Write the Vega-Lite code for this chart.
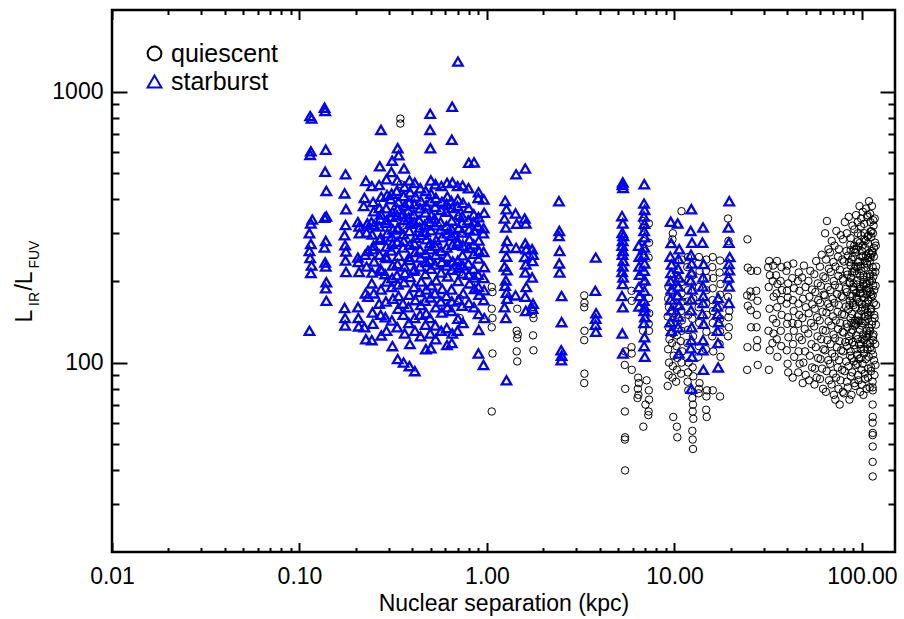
{
"$schema": "https://vega.github.io/schema/vega-lite/v6.json",
"width": 783, "height": 542,
"autosize": "none",
"padding": {"left": 112, "top": 10, "right": 9, "bottom": 67},
"background": "white",
"title": {"text": "\u200bL\u00a0\u00a0\u00a0/L\u00a0\u00a0\u00a0\u00a0\u00a0\u200b", "subtitle": "\u200b\u00a0\u00a0\u00a0\u00a0IR\u00a0\u00a0\u00a0\u00a0\u00a0\u00a0FUV\u200b", "orient": "left", "anchor": "middle", "fontSize": 23, "subtitleFontSize": 14, "font": "Liberation Sans", "subtitleFont": "Liberation Sans", "fontWeight": "normal", "color": "#000000", "subtitleColor": "#000000", "subtitlePadding": -9, "offset": 10},
"config": {
  "font": "Liberation Sans",
  "view": {"stroke": "#000000", "strokeWidth": 2.5},
  "axis": {"domain": false, "grid": false, "tickColor": "#000000", "tickWidth": 2, "labelColor": "#000000", "labelFont": "Liberation Sans", "labelFontSize": 23, "titleFont": "Liberation Sans", "titleFontSize": 23, "titleFontWeight": "normal", "titleColor": "#000000", "labelFlush": false, "labelOverlap": false}
},
"datasets": {
  "ax": [{"x": 1, "y": 100}],
  "pts": [
{"x":0.345,"y":795,"t":"q"},{"x":0.345,"y":762,"t":"q"},{"x":0.347,"y":455,"t":"q"},{"x":0.346,"y":325,"t":"q"},
{"x":0.715,"y":340,"t":"q"},{"x":0.713,"y":288,"t":"q"},{"x":0.716,"y":228,"t":"q"},{"x":0.714,"y":215,"t":"q"},{"x":0.715,"y":172,"t":"q"},{"x":0.716,"y":146,"t":"q"},
{"x":1.06,"y":190,"t":"q"},{"x":1.07,"y":182,"t":"q"},{"x":1.06,"y":158,"t":"q"},{"x":1.07,"y":146,"t":"q"},{"x":1.06,"y":135,"t":"q"},{"x":1.07,"y":108,"t":"q"},{"x":1.06,"y":66,"t":"q"},
{"x":1.45,"y":158,"t":"q"},{"x":1.44,"y":131,"t":"q"},{"x":1.46,"y":127,"t":"q"},{"x":1.45,"y":123,"t":"q"},{"x":1.44,"y":110,"t":"q"},{"x":1.45,"y":101,"t":"q"},
{"x":1.77,"y":160,"t":"q"},{"x":1.76,"y":151,"t":"q"},{"x":1.77,"y":146,"t":"q"},{"x":1.76,"y":126,"t":"q"},{"x":1.77,"y":111,"t":"q"},
{"x":3.3,"y":177,"t":"q"},{"x":3.31,"y":166,"t":"q"},{"x":3.3,"y":160,"t":"q"},{"x":3.31,"y":131,"t":"q"},{"x":3.3,"y":121,"t":"q"},{"x":3.31,"y":91,"t":"q"},{"x":3.3,"y":84,"t":"q"},
{"x":5.45,"y":110,"t":"q"},{"x":5.43,"y":98,"t":"q"},{"x":5.46,"y":80,"t":"q"},{"x":5.44,"y":66,"t":"q"},{"x":5.45,"y":53,"t":"q"},{"x":5.44,"y":52,"t":"q"},{"x":5.45,"y":40,"t":"q"},
{"x":5.9,"y":184,"t":"q"},{"x":5.92,"y":169,"t":"q"},{"x":5.9,"y":114,"t":"q"},{"x":5.91,"y":108,"t":"q"},{"x":5.92,"y":94,"t":"q"},
{"x":6.4,"y":88,"t":"q"},{"x":6.45,"y":84,"t":"q"},{"x":6.38,"y":80,"t":"q"},{"x":6.42,"y":76,"t":"q"},{"x":6.35,"y":74,"t":"q"},
{"x":6.8,"y":333,"t":"q"},{"x":6.82,"y":315,"t":"q"},{"x":6.8,"y":281,"t":"q"},{"x":6.83,"y":258,"t":"q"},{"x":6.81,"y":195,"t":"q"},{"x":6.8,"y":131,"t":"q"},{"x":6.82,"y":58,"t":"q"},
{"x":7.3,"y":326,"t":"q"},{"x":7.32,"y":277,"t":"q"},{"x":7.28,"y":244,"t":"q"},{"x":7.3,"y":173,"t":"q"},{"x":7.33,"y":152,"t":"q"},{"x":7.29,"y":139,"t":"q"},{"x":7.31,"y":131,"t":"q"},{"x":7.3,"y":79,"t":"q"},{"x":7.32,"y":73,"t":"q"},{"x":7.28,"y":66,"t":"q"},{"x":7.25,"y":64,"t":"q"},{"x":7.1,"y":86,"t":"q"},{"x":7.0,"y":70,"t":"q"},
{"x":9.3,"y":190,"t":"q"},{"x":9.25,"y":172,"t":"q"},{"x":9.35,"y":160,"t":"q"},{"x":9.2,"y":148,"t":"q"},{"x":9.3,"y":135,"t":"q"},{"x":9.4,"y":122,"t":"q"},{"x":9.25,"y":112,"t":"q"},{"x":9.35,"y":100,"t":"q"},{"x":9.3,"y":90,"t":"q"},{"x":9.2,"y":82,"t":"q"},
{"x":9.8,"y":300,"t":"q"},{"x":9.75,"y":285,"t":"q"},{"x":9.85,"y":200,"t":"q"},{"x":9.8,"y":182,"t":"q"},{"x":9.9,"y":165,"t":"q"},{"x":9.75,"y":152,"t":"q"},{"x":9.85,"y":140,"t":"q"},{"x":9.8,"y":128,"t":"q"},{"x":9.7,"y":118,"t":"q"},{"x":9.9,"y":106,"t":"q"},{"x":9.8,"y":97,"t":"q"},{"x":9.75,"y":88,"t":"q"},{"x":9.85,"y":63,"t":"q"},
{"x":10.3,"y":210,"t":"q"},{"x":10.25,"y":188,"t":"q"},{"x":10.35,"y":176,"t":"q"},{"x":10.3,"y":160,"t":"q"},{"x":10.2,"y":150,"t":"q"},{"x":10.4,"y":138,"t":"q"},{"x":10.3,"y":126,"t":"q"},{"x":10.25,"y":115,"t":"q"},{"x":10.35,"y":104,"t":"q"},{"x":10.3,"y":94,"t":"q"},{"x":10.2,"y":85,"t":"q"},{"x":10.3,"y":58,"t":"q"},{"x":10.35,"y":53,"t":"q"},
{"x":10.9,"y":362,"t":"q"},{"x":10.95,"y":240,"t":"q"},{"x":10.85,"y":198,"t":"q"},{"x":10.9,"y":180,"t":"q"},{"x":11.0,"y":168,"t":"q"},{"x":10.85,"y":155,"t":"q"},{"x":10.95,"y":143,"t":"q"},{"x":10.9,"y":131,"t":"q"},{"x":10.8,"y":120,"t":"q"},{"x":11.0,"y":110,"t":"q"},{"x":10.9,"y":100,"t":"q"},{"x":10.85,"y":91,"t":"q"},
{"x":11.8,"y":245,"t":"q"},{"x":11.7,"y":225,"t":"q"},{"x":11.9,"y":200,"t":"q"},{"x":11.8,"y":185,"t":"q"},{"x":11.75,"y":168,"t":"q"},{"x":11.85,"y":150,"t":"q"},{"x":11.8,"y":132,"t":"q"},{"x":11.7,"y":118,"t":"q"},{"x":11.9,"y":100,"t":"q"},{"x":11.8,"y":92,"t":"q"},{"x":11.75,"y":85,"t":"q"},{"x":11.85,"y":79,"t":"q"},
{"x":12.5,"y":210,"t":"q"},{"x":12.6,"y":172,"t":"q"},{"x":12.45,"y":145,"t":"q"},{"x":12.55,"y":125,"t":"q"},{"x":12.5,"y":96,"t":"q"},{"x":12.6,"y":89,"t":"q"},{"x":12.45,"y":74,"t":"q"},{"x":12.55,"y":70,"t":"q"},{"x":12.5,"y":66,"t":"q"},{"x":12.6,"y":62,"t":"q"},{"x":12.45,"y":56,"t":"q"},{"x":12.5,"y":52,"t":"q"},{"x":12.55,"y":48,"t":"q"},
{"x":13.5,"y":245,"t":"q"},{"x":13.4,"y":232,"t":"q"},{"x":13.6,"y":218,"t":"q"},{"x":13.5,"y":190,"t":"q"},{"x":13.45,"y":160,"t":"q"},{"x":13.55,"y":140,"t":"q"},{"x":13.5,"y":115,"t":"q"},{"x":13.4,"y":105,"t":"q"},{"x":13.6,"y":84,"t":"q"},{"x":13.5,"y":80,"t":"q"},{"x":13.45,"y":77,"t":"q"},
{"x":14.8,"y":240,"t":"q"},{"x":14.7,"y":218,"t":"q"},{"x":14.9,"y":205,"t":"q"},{"x":14.8,"y":185,"t":"q"},{"x":14.75,"y":165,"t":"q"},{"x":14.85,"y":150,"t":"q"},{"x":14.8,"y":130,"t":"q"},{"x":14.7,"y":112,"t":"q"},{"x":14.9,"y":79,"t":"q"},{"x":14.8,"y":75,"t":"q"},{"x":14.75,"y":67,"t":"q"},{"x":14.85,"y":63,"t":"q"},
{"x":16,"y":245,"t":"q"},{"x":15.9,"y":225,"t":"q"},{"x":16.1,"y":205,"t":"q"},{"x":16,"y":188,"t":"q"},{"x":15.95,"y":170,"t":"q"},{"x":16.05,"y":155,"t":"q"},{"x":16,"y":140,"t":"q"},{"x":15.9,"y":125,"t":"q"},{"x":16.1,"y":110,"t":"q"},{"x":16,"y":79,"t":"q"},
{"x":17.5,"y":238,"t":"q"},{"x":17.4,"y":215,"t":"q"},{"x":17.6,"y":195,"t":"q"},{"x":17.5,"y":178,"t":"q"},{"x":17.45,"y":160,"t":"q"},{"x":17.55,"y":145,"t":"q"},{"x":17.5,"y":130,"t":"q"},{"x":17.4,"y":117,"t":"q"},{"x":17.6,"y":105,"t":"q"},{"x":17.5,"y":75,"t":"q"},
{"x":19.3,"y":340,"t":"q"},{"x":19.4,"y":281,"t":"q"},{"x":19.5,"y":200,"t":"q"},{"x":19.3,"y":175,"t":"q"},{"x":19.6,"y":155,"t":"q"},{"x":19.4,"y":147,"t":"q"},{"x":19.5,"y":135,"t":"q"},{"x":19.3,"y":125,"t":"q"},
{"x":24.5,"y":285,"t":"q"},{"x":24.6,"y":224,"t":"q"},{"x":24.4,"y":177,"t":"q"},{"x":24.6,"y":162,"t":"q"},{"x":24.5,"y":114,"t":"q"},{"x":24.4,"y":94,"t":"q"},
{"x":25.6,"y":218,"t":"q"},{"x":25.4,"y":183,"t":"q"},{"x":25.7,"y":175,"t":"q"},{"x":25.5,"y":156,"t":"q"},{"x":25.6,"y":135,"t":"q"},
{"x":27.6,"y":218,"t":"q"},{"x":27.3,"y":184,"t":"q"},{"x":27.7,"y":169,"t":"q"},{"x":27.5,"y":150,"t":"q"},{"x":27.4,"y":135,"t":"q"},{"x":27.6,"y":121,"t":"q"},{"x":27.5,"y":114,"t":"q"},{"x":27.8,"y":98,"t":"q"},
{"x":32,"y":237,"t":"q"},{"x":31.6,"y":225,"t":"q"},{"x":32.3,"y":210,"t":"q"},{"x":31.8,"y":190,"t":"q"},{"x":32.1,"y":158,"t":"q"},{"x":31.7,"y":131,"t":"q"},{"x":32.2,"y":111,"t":"q"},{"x":31.9,"y":94,"t":"q"},
{"x":33.6,"y":228,"t":"q"},{"x":33.4,"y":200,"t":"q"},{"x":33.8,"y":175,"t":"q"},{"x":33.5,"y":145,"t":"q"},{"x":33.7,"y":128,"t":"q"},{"x":33.3,"y":118,"t":"q"},
{"x":35.2,"y":237,"t":"q"},{"x":34.8,"y":210,"t":"q"},{"x":35.4,"y":195,"t":"q"},{"x":35,"y":180,"t":"q"},{"x":35.3,"y":160,"t":"q"},{"x":34.9,"y":140,"t":"q"},{"x":35.1,"y":122,"t":"q"},{"x":35.4,"y":105,"t":"q"},
{"x":37.2,"y":225,"t":"q"},{"x":36.8,"y":200,"t":"q"},{"x":37.4,"y":185,"t":"q"},{"x":37,"y":170,"t":"q"},{"x":37.3,"y":150,"t":"q"},{"x":36.9,"y":131,"t":"q"},{"x":37.1,"y":115,"t":"q"},
{"x":40,"y":228,"t":"q"},{"x":39.5,"y":218,"t":"q"},{"x":40.4,"y":196,"t":"q"},{"x":39.8,"y":184,"t":"q"},{"x":40.2,"y":174,"t":"q"},{"x":39.6,"y":165,"t":"q"},{"x":40.3,"y":147,"t":"q"},{"x":39.9,"y":139,"t":"q"},{"x":40.5,"y":124,"t":"q"},{"x":39.7,"y":111,"t":"q"},{"x":40.1,"y":99,"t":"q"},{"x":40.4,"y":92,"t":"q"},
{"x":43,"y":232,"t":"q"},{"x":42.5,"y":205,"t":"q"},{"x":43.4,"y":188,"t":"q"},{"x":42.8,"y":170,"t":"q"},{"x":43.2,"y":155,"t":"q"},{"x":42.6,"y":140,"t":"q"},{"x":43.3,"y":131,"t":"q"},{"x":42.9,"y":117,"t":"q"},{"x":43.5,"y":105,"t":"q"},{"x":42.7,"y":88,"t":"q"},
{"x":46,"y":215,"t":"q"},{"x":45.5,"y":200,"t":"q"},{"x":46.4,"y":184,"t":"q"},{"x":45.8,"y":165,"t":"q"},{"x":46.2,"y":150,"t":"q"},{"x":45.6,"y":139,"t":"q"},{"x":46.3,"y":124,"t":"q"},{"x":45.9,"y":110,"t":"q"},{"x":46.5,"y":99,"t":"q"},{"x":45.7,"y":92,"t":"q"},
{"x":49,"y":228,"t":"q"},{"x":47.9,"y":206,"t":"q"},{"x":50,"y":190,"t":"q"},{"x":48.5,"y":172,"t":"q"},{"x":50.2,"y":160,"t":"q"},{"x":48.1,"y":146,"t":"q"},{"x":49.5,"y":133,"t":"q"},{"x":47.8,"y":121,"t":"q"},{"x":49.7,"y":110,"t":"q"},{"x":48.7,"y":100,"t":"q"},{"x":50.1,"y":90,"t":"q"},{"x":48.3,"y":84,"t":"q"},
{"x":53,"y":218,"t":"q"},{"x":51.8,"y":200,"t":"q"},{"x":54.1,"y":186,"t":"q"},{"x":52.4,"y":175,"t":"q"},{"x":54.3,"y":164,"t":"q"},{"x":52,"y":152,"t":"q"},{"x":53.5,"y":140,"t":"q"},{"x":51.7,"y":128,"t":"q"},{"x":53.8,"y":117,"t":"q"},{"x":52.7,"y":106,"t":"q"},{"x":54.2,"y":96,"t":"q"},{"x":52.2,"y":86,"t":"q"},
{"x":57,"y":237,"t":"q"},{"x":55.7,"y":212,"t":"q"},{"x":58.1,"y":196,"t":"q"},{"x":56.4,"y":182,"t":"q"},{"x":58.4,"y":170,"t":"q"},{"x":56,"y":158,"t":"q"},{"x":57.6,"y":147,"t":"q"},{"x":55.6,"y":136,"t":"q"},{"x":57.9,"y":125,"t":"q"},{"x":56.7,"y":114,"t":"q"},{"x":58.3,"y":104,"t":"q"},{"x":56.1,"y":95,"t":"q"},{"x":57.3,"y":88,"t":"q"},{"x":55.8,"y":83,"t":"q"},
{"x":61,"y":250,"t":"q"},{"x":59.7,"y":226,"t":"q"},{"x":62.2,"y":208,"t":"q"},{"x":60.3,"y":192,"t":"q"},{"x":62.5,"y":178,"t":"q"},{"x":59.9,"y":166,"t":"q"},{"x":61.6,"y":154,"t":"q"},{"x":59.5,"y":143,"t":"q"},{"x":61.9,"y":132,"t":"q"},{"x":60.6,"y":122,"t":"q"},{"x":62.3,"y":112,"t":"q"},{"x":60.1,"y":103,"t":"q"},{"x":61.3,"y":95,"t":"q"},{"x":59.7,"y":87,"t":"q"},{"x":62,"y":80,"t":"q"},
{"x":65,"y":333,"t":"q"},{"x":63.6,"y":300,"t":"q"},{"x":66.3,"y":262,"t":"q"},{"x":64.3,"y":240,"t":"q"},{"x":66.6,"y":222,"t":"q"},{"x":63.8,"y":205,"t":"q"},{"x":65.7,"y":190,"t":"q"},{"x":63.4,"y":177,"t":"q"},{"x":66,"y":165,"t":"q"},{"x":64.6,"y":153,"t":"q"},{"x":66.4,"y":142,"t":"q"},{"x":64,"y":131,"t":"q"},{"x":65.3,"y":121,"t":"q"},{"x":63.6,"y":111,"t":"q"},{"x":66.1,"y":102,"t":"q"},{"x":64.8,"y":93,"t":"q"},{"x":66.7,"y":86,"t":"q"},{"x":64.2,"y":78,"t":"q"},
{"x":69,"y":281,"t":"q"},{"x":67.5,"y":255,"t":"q"},{"x":70.4,"y":235,"t":"q"},{"x":68.2,"y":216,"t":"q"},{"x":70.7,"y":200,"t":"q"},{"x":67.8,"y":185,"t":"q"},{"x":69.7,"y":172,"t":"q"},{"x":67.3,"y":160,"t":"q"},{"x":70,"y":148,"t":"q"},{"x":68.6,"y":137,"t":"q"},{"x":70.5,"y":127,"t":"q"},{"x":68,"y":117,"t":"q"},{"x":69.3,"y":108,"t":"q"},{"x":67.6,"y":99,"t":"q"},{"x":70.2,"y":91,"t":"q"},{"x":68.8,"y":83,"t":"q"},{"x":70.8,"y":76,"t":"q"},
{"x":73,"y":306,"t":"q"},{"x":71.4,"y":270,"t":"q"},{"x":74.5,"y":246,"t":"q"},{"x":72.2,"y":226,"t":"q"},{"x":74.8,"y":209,"t":"q"},{"x":71.7,"y":193,"t":"q"},{"x":73.7,"y":179,"t":"q"},{"x":71.2,"y":166,"t":"q"},{"x":74.1,"y":154,"t":"q"},{"x":72.6,"y":143,"t":"q"},{"x":74.6,"y":133,"t":"q"},{"x":71.9,"y":123,"t":"q"},{"x":73.4,"y":114,"t":"q"},{"x":71.5,"y":105,"t":"q"},{"x":74.2,"y":96,"t":"q"},{"x":72.8,"y":88,"t":"q"},{"x":74.9,"y":80,"t":"q"},{"x":72.1,"y":73,"t":"q"},
{"x":77,"y":295,"t":"q"},{"x":75.3,"y":262,"t":"q"},{"x":78.5,"y":240,"t":"q"},{"x":76.2,"y":220,"t":"q"},{"x":78.9,"y":204,"t":"q"},{"x":75.6,"y":189,"t":"q"},{"x":77.8,"y":176,"t":"q"},{"x":75.1,"y":163,"t":"q"},{"x":78.2,"y":151,"t":"q"},{"x":76.5,"y":140,"t":"q"},{"x":78.7,"y":130,"t":"q"},{"x":75.8,"y":120,"t":"q"},{"x":77.4,"y":111,"t":"q"},{"x":75.4,"y":102,"t":"q"},{"x":78.3,"y":94,"t":"q"},{"x":76.8,"y":86,"t":"q"},{"x":79,"y":78,"t":"q"},{"x":76.1,"y":70,"t":"q"},
{"x":81,"y":330,"t":"q"},{"x":79.2,"y":285,"t":"q"},{"x":82.6,"y":258,"t":"q"},{"x":80.1,"y":236,"t":"q"},{"x":83,"y":217,"t":"q"},{"x":79.5,"y":201,"t":"q"},{"x":81.8,"y":187,"t":"q"},{"x":79,"y":174,"t":"q"},{"x":82.2,"y":161,"t":"q"},{"x":80.5,"y":150,"t":"q"},{"x":82.8,"y":139,"t":"q"},{"x":79.8,"y":129,"t":"q"},{"x":81.4,"y":119,"t":"q"},{"x":79.3,"y":110,"t":"q"},{"x":82.4,"y":101,"t":"q"},{"x":80.8,"y":93,"t":"q"},{"x":83.1,"y":85,"t":"q"},{"x":80,"y":77,"t":"q"},
{"x":85,"y":345,"t":"q"},{"x":83.1,"y":300,"t":"q"},{"x":86.7,"y":272,"t":"q"},{"x":84.1,"y":248,"t":"q"},{"x":87.1,"y":228,"t":"q"},{"x":83.5,"y":211,"t":"q"},{"x":85.9,"y":196,"t":"q"},{"x":82.9,"y":182,"t":"q"},{"x":86.3,"y":169,"t":"q"},{"x":84.5,"y":157,"t":"q"},{"x":86.9,"y":146,"t":"q"},{"x":83.7,"y":135,"t":"q"},{"x":85.4,"y":125,"t":"q"},{"x":83.2,"y":115,"t":"q"},{"x":86.4,"y":106,"t":"q"},{"x":84.7,"y":97,"t":"q"},{"x":87.2,"y":89,"t":"q"},{"x":84,"y":81,"t":"q"},{"x":85.7,"y":73,"t":"q"},
{"x":89,"y":320,"t":"q"},{"x":87,"y":288,"t":"q"},{"x":90.8,"y":262,"t":"q"},{"x":88,"y":240,"t":"q"},{"x":91.2,"y":222,"t":"q"},{"x":87.4,"y":205,"t":"q"},{"x":89.9,"y":190,"t":"q"},{"x":86.8,"y":176,"t":"q"},{"x":90.3,"y":163,"t":"q"},{"x":88.5,"y":151,"t":"q"},{"x":91,"y":140,"t":"q"},{"x":87.7,"y":129,"t":"q"},{"x":89.4,"y":119,"t":"q"},{"x":87.1,"y":110,"t":"q"},{"x":90.5,"y":101,"t":"q"},{"x":88.7,"y":92,"t":"q"},{"x":91.3,"y":84,"t":"q"},{"x":87.9,"y":76,"t":"q"},
{"x":93,"y":350,"t":"q"},{"x":91,"y":310,"t":"q"},{"x":94.9,"y":280,"t":"q"},{"x":92,"y":255,"t":"q"},{"x":95.3,"y":235,"t":"q"},{"x":91.3,"y":217,"t":"q"},{"x":93.9,"y":201,"t":"q"},{"x":90.7,"y":186,"t":"q"},{"x":94.4,"y":172,"t":"q"},{"x":92.4,"y":160,"t":"q"},{"x":95,"y":148,"t":"q"},{"x":91.6,"y":137,"t":"q"},{"x":93.5,"y":126,"t":"q"},{"x":91,"y":116,"t":"q"},{"x":94.6,"y":107,"t":"q"},{"x":92.7,"y":98,"t":"q"},{"x":95.4,"y":90,"t":"q"},{"x":91.9,"y":82,"t":"q"},
{"x":97,"y":378,"t":"q"},{"x":94.9,"y":330,"t":"q"},{"x":98.9,"y":295,"t":"q"},{"x":95.9,"y":268,"t":"q"},{"x":99.4,"y":246,"t":"q"},{"x":95.3,"y":226,"t":"q"},{"x":98,"y":209,"t":"q"},{"x":94.6,"y":194,"t":"q"},{"x":98.5,"y":180,"t":"q"},{"x":96.4,"y":167,"t":"q"},{"x":99.1,"y":155,"t":"q"},{"x":95.5,"y":143,"t":"q"},{"x":97.5,"y":132,"t":"q"},{"x":95,"y":122,"t":"q"},{"x":98.6,"y":112,"t":"q"},{"x":96.7,"y":103,"t":"q"},{"x":99.5,"y":94,"t":"q"},{"x":95.8,"y":86,"t":"q"},{"x":97.8,"y":78,"t":"q"},
{"x":101,"y":360,"t":"q"},{"x":98.8,"y":318,"t":"q"},{"x":103,"y":285,"t":"q"},{"x":99.9,"y":258,"t":"q"},{"x":103.5,"y":237,"t":"q"},{"x":99.2,"y":218,"t":"q"},{"x":102,"y":202,"t":"q"},{"x":98.5,"y":187,"t":"q"},{"x":102.5,"y":173,"t":"q"},{"x":100.4,"y":160,"t":"q"},{"x":103.2,"y":148,"t":"q"},{"x":99.5,"y":137,"t":"q"},{"x":101.5,"y":127,"t":"q"},{"x":98.9,"y":117,"t":"q"},{"x":102.7,"y":108,"t":"q"},{"x":100.7,"y":99,"t":"q"},{"x":103.6,"y":91,"t":"q"},{"x":99.8,"y":83,"t":"q"},{"x":101.8,"y":76,"t":"q"},
{"x":105,"y":370,"t":"q"},{"x":102.7,"y":325,"t":"q"},{"x":107.1,"y":292,"t":"q"},{"x":103.8,"y":265,"t":"q"},{"x":107.6,"y":243,"t":"q"},{"x":103.1,"y":224,"t":"q"},{"x":106.1,"y":207,"t":"q"},{"x":102.4,"y":192,"t":"q"},{"x":106.6,"y":178,"t":"q"},{"x":104.4,"y":165,"t":"q"},{"x":107.3,"y":153,"t":"q"},{"x":103.4,"y":142,"t":"q"},{"x":105.5,"y":131,"t":"q"},{"x":102.8,"y":121,"t":"q"},{"x":106.8,"y":112,"t":"q"},{"x":104.7,"y":103,"t":"q"},{"x":107.7,"y":95,"t":"q"},{"x":103.7,"y":87,"t":"q"},{"x":105.8,"y":80,"t":"q"},
{"x":109,"y":394,"t":"q"},{"x":106.6,"y":345,"t":"q"},{"x":111.2,"y":305,"t":"q"},{"x":107.8,"y":275,"t":"q"},{"x":111.7,"y":250,"t":"q"},{"x":107,"y":230,"t":"q"},{"x":110.1,"y":212,"t":"q"},{"x":106.3,"y":196,"t":"q"},{"x":110.6,"y":182,"t":"q"},{"x":108.3,"y":169,"t":"q"},{"x":111.4,"y":157,"t":"q"},{"x":107.4,"y":145,"t":"q"},{"x":109.5,"y":134,"t":"q"},{"x":106.7,"y":124,"t":"q"},{"x":110.9,"y":114,"t":"q"},{"x":108.7,"y":105,"t":"q"},{"x":111.8,"y":96,"t":"q"},{"x":107.7,"y":88,"t":"q"},{"x":109.9,"y":81,"t":"q"},
{"x":113,"y":378,"t":"q"},{"x":110.5,"y":354,"t":"q"},{"x":115.3,"y":320,"t":"q"},{"x":111.8,"y":290,"t":"q"},{"x":115.8,"y":265,"t":"q"},{"x":111,"y":244,"t":"q"},{"x":114.1,"y":225,"t":"q"},{"x":110.2,"y":208,"t":"q"},{"x":114.7,"y":193,"t":"q"},{"x":112.3,"y":179,"t":"q"},{"x":115.5,"y":166,"t":"q"},{"x":111.3,"y":154,"t":"q"},{"x":113.6,"y":142,"t":"q"},{"x":110.6,"y":131,"t":"q"},{"x":114.9,"y":121,"t":"q"},{"x":112.7,"y":111,"t":"q"},{"x":115.9,"y":102,"t":"q"},{"x":111.6,"y":93,"t":"q"},{"x":113.9,"y":85,"t":"q"},
{"x":114,"y":81,"t":"q"},{"x":114.2,"y":79,"t":"q"},{"x":114,"y":70,"t":"q"},{"x":114.1,"y":63,"t":"q"},{"x":114,"y":60,"t":"q"},{"x":114.2,"y":55,"t":"q"},{"x":114,"y":54,"t":"q"},{"x":114.1,"y":49,"t":"q"},{"x":114,"y":43,"t":"q"},{"x":114.1,"y":38,"t":"q"},
{"x":117,"y":340,"t":"q"},{"x":114.4,"y":300,"t":"q"},{"x":118.5,"y":270,"t":"q"},{"x":115.7,"y":246,"t":"q"},{"x":118.8,"y":226,"t":"q"},{"x":114.9,"y":208,"t":"q"},{"x":118.2,"y":192,"t":"q"},{"x":114.1,"y":177,"t":"q"},{"x":118.8,"y":163,"t":"q"},{"x":116.3,"y":150,"t":"q"},{"x":118.6,"y":138,"t":"q"},{"x":115.2,"y":127,"t":"q"},{"x":117.6,"y":117,"t":"q"},{"x":114.5,"y":107,"t":"q"},{"x":118,"y":98,"t":"q"},{"x":116.6,"y":90,"t":"q"},
{"x":87,"y":260,"t":"q"},{"x":85.5,"y":235,"t":"q"},{"x":88.6,"y":215,"t":"q"},{"x":86.2,"y":198,"t":"q"},{"x":88.9,"y":176,"t":"q"},{"x":85.8,"y":163,"t":"q"},{"x":87.7,"y":140,"t":"q"},{"x":85.2,"y":120,"t":"q"},{"x":88.2,"y":104,"t":"q"},
{"x":91,"y":270,"t":"q"},{"x":89.3,"y":245,"t":"q"},{"x":92.8,"y":226,"t":"q"},{"x":90.1,"y":196,"t":"q"},{"x":93.1,"y":181,"t":"q"},{"x":89.6,"y":166,"t":"q"},{"x":91.9,"y":143,"t":"q"},{"x":89,"y":132,"t":"q"},{"x":92.3,"y":112,"t":"q"},
{"x":95,"y":300,"t":"q"},{"x":93.2,"y":261,"t":"q"},{"x":96.9,"y":236,"t":"q"},{"x":94.1,"y":213,"t":"q"},{"x":97.3,"y":187,"t":"q"},{"x":93.5,"y":174,"t":"q"},{"x":96,"y":150,"t":"q"},{"x":92.9,"y":138,"t":"q"},{"x":96.4,"y":117,"t":"q"},{"x":94.5,"y":99,"t":"q"},
{"x":99,"y":340,"t":"q"},{"x":97,"y":276,"t":"q"},{"x":101,"y":247,"t":"q"},{"x":98,"y":227,"t":"q"},{"x":101.4,"y":195,"t":"q"},{"x":97.4,"y":180,"t":"q"},{"x":100,"y":164,"t":"q"},{"x":96.8,"y":142,"t":"q"},{"x":100.5,"y":122,"t":"q"},{"x":98.4,"y":104,"t":"q"},
{"x":103,"y":300,"t":"q"},{"x":101,"y":271,"t":"q"},{"x":105.1,"y":248,"t":"q"},{"x":102,"y":210,"t":"q"},{"x":105.5,"y":195,"t":"q"},{"x":101.3,"y":180,"t":"q"},{"x":104.1,"y":158,"t":"q"},{"x":100.7,"y":140,"t":"q"},{"x":104.6,"y":125,"t":"q"},{"x":102.3,"y":112,"t":"q"},
{"x":107,"y":350,"t":"q"},{"x":104.8,"y":282,"t":"q"},{"x":109.2,"y":254,"t":"q"},{"x":105.9,"y":233,"t":"q"},{"x":109.6,"y":200,"t":"q"},{"x":105.1,"y":186,"t":"q"},{"x":108.1,"y":170,"t":"q"},{"x":104.5,"y":148,"t":"q"},{"x":108.6,"y":128,"t":"q"},{"x":106.4,"y":117,"t":"q"},
{"x":111,"y":330,"t":"q"},{"x":108.6,"y":295,"t":"q"},{"x":113.3,"y":258,"t":"q"},{"x":109.9,"y":236,"t":"q"},{"x":113.7,"y":216,"t":"q"},{"x":109.1,"y":188,"t":"q"},{"x":112.2,"y":174,"t":"q"},{"x":108.3,"y":150,"t":"q"},{"x":112.7,"y":138,"t":"q"},{"x":110.4,"y":118,"t":"q"},
{"x":115,"y":335,"t":"q"},{"x":112.5,"y":305,"t":"q"},{"x":117.4,"y":277,"t":"q"},{"x":113.9,"y":254,"t":"q"},{"x":117.8,"y":216,"t":"q"},{"x":113,"y":200,"t":"q"},{"x":116.2,"y":185,"t":"q"},{"x":112.2,"y":158,"t":"q"},{"x":116.8,"y":146,"t":"q"},{"x":114.3,"y":125,"t":"q"},
{"x":0.114,"y":812,"t":"s"},{"x":0.116,"y":795,"t":"s"},{"x":0.115,"y":602,"t":"s"},{"x":0.114,"y":584,"t":"s"},{"x":0.117,"y":337,"t":"s"},{"x":0.115,"y":326,"t":"s"},{"x":0.113,"y":300,"t":"s"},{"x":0.115,"y":274,"t":"s"},{"x":0.113,"y":258,"t":"s"},{"x":0.114,"y":243,"t":"s"},{"x":0.116,"y":228,"t":"s"},{"x":0.115,"y":214,"t":"s"},{"x":0.113,"y":131,"t":"s"},
{"x":0.136,"y":872,"t":"s"},{"x":0.137,"y":848,"t":"s"},{"x":0.138,"y":610,"t":"s"},{"x":0.137,"y":506,"t":"s"},{"x":0.139,"y":430,"t":"s"},{"x":0.136,"y":342,"t":"s"},{"x":0.139,"y":346,"t":"s"},{"x":0.138,"y":281,"t":"s"},{"x":0.136,"y":266,"t":"s"},{"x":0.137,"y":234,"t":"s"},{"x":0.138,"y":226,"t":"s"},{"x":0.139,"y":198,"t":"s"},{"x":0.138,"y":188,"t":"s"},{"x":0.139,"y":169,"t":"s"},
{"x":0.176,"y":495,"t":"s"},{"x":0.174,"y":421,"t":"s"},{"x":0.177,"y":368,"t":"s"},{"x":0.176,"y":322,"t":"s"},{"x":0.174,"y":295,"t":"s"},{"x":0.175,"y":271,"t":"s"},{"x":0.177,"y":257,"t":"s"},{"x":0.176,"y":238,"t":"s"},{"x":0.177,"y":216,"t":"s"},{"x":0.174,"y":159,"t":"s"},{"x":0.175,"y":146,"t":"s"},{"x":0.175,"y":137,"t":"s"},
{"x":0.205,"y":330,"t":"s"},{"x":0.208,"y":318,"t":"s"},{"x":0.209,"y":300,"t":"s"},{"x":0.205,"y":244,"t":"s"},{"x":0.206,"y":235,"t":"s"},{"x":0.208,"y":216,"t":"s"},{"x":0.205,"y":160,"t":"s"},{"x":0.206,"y":146,"t":"s"},{"x":0.207,"y":136,"t":"s"},
{"x":0.226,"y":468,"t":"s"},{"x":0.222,"y":405,"t":"s"},{"x":0.22,"y":378,"t":"s"},{"x":0.23,"y":326,"t":"s"},{"x":0.228,"y":302,"t":"s"},{"x":0.232,"y":258,"t":"s"},{"x":0.224,"y":250,"t":"s"},{"x":0.228,"y":226,"t":"s"},{"x":0.225,"y":180,"t":"s"},{"x":0.232,"y":175,"t":"s"},{"x":0.222,"y":135,"t":"s"},{"x":0.226,"y":122,"t":"s"},
{"x":0.243,"y":448,"t":"s"},{"x":0.247,"y":391,"t":"s"},{"x":0.249,"y":362,"t":"s"},{"x":0.242,"y":330,"t":"s"},{"x":0.25,"y":322,"t":"s"},{"x":0.244,"y":297,"t":"s"},{"x":0.248,"y":270,"t":"s"},{"x":0.246,"y":262,"t":"s"},{"x":0.25,"y":236,"t":"s"},{"x":0.244,"y":215,"t":"s"},{"x":0.243,"y":196,"t":"s"},{"x":0.249,"y":180,"t":"s"},{"x":0.245,"y":153,"t":"s"},{"x":0.246,"y":139,"t":"s"},{"x":0.243,"y":121,"t":"s"},
{"x":0.272,"y":722,"t":"s"},{"x":0.268,"y":530,"t":"s"},{"x":0.266,"y":452,"t":"s"},{"x":0.273,"y":409,"t":"s"},{"x":0.267,"y":372,"t":"s"},{"x":0.272,"y":352,"t":"s"},{"x":0.27,"y":339,"t":"s"},{"x":0.266,"y":318,"t":"s"},{"x":0.271,"y":289,"t":"s"},{"x":0.268,"y":284,"t":"s"},{"x":0.267,"y":250,"t":"s"},{"x":0.27,"y":222,"t":"s"},{"x":0.274,"y":218,"t":"s"},{"x":0.272,"y":186,"t":"s"},{"x":0.266,"y":165,"t":"s"},{"x":0.271,"y":150,"t":"s"},{"x":0.273,"y":126,"t":"s"},
{"x":0.291,"y":475,"t":"s"},{"x":0.293,"y":415,"t":"s"},{"x":0.29,"y":371,"t":"s"},{"x":0.292,"y":335,"t":"s"},{"x":0.289,"y":328,"t":"s"},{"x":0.294,"y":300,"t":"s"},{"x":0.291,"y":268,"t":"s"},{"x":0.288,"y":246,"t":"s"},{"x":0.293,"y":243,"t":"s"},{"x":0.286,"y":212,"t":"s"},{"x":0.292,"y":199,"t":"s"},{"x":0.289,"y":168,"t":"s"},{"x":0.287,"y":147,"t":"s"},{"x":0.291,"y":131,"t":"s"},
{"x":0.312,"y":556,"t":"s"},{"x":0.309,"y":505,"t":"s"},{"x":0.31,"y":420,"t":"s"},{"x":0.307,"y":401,"t":"s"},{"x":0.313,"y":359,"t":"s"},{"x":0.308,"y":345,"t":"s"},{"x":0.315,"y":310,"t":"s"},{"x":0.31,"y":292,"t":"s"},{"x":0.313,"y":274,"t":"s"},{"x":0.309,"y":259,"t":"s"},{"x":0.314,"y":228,"t":"s"},{"x":0.312,"y":205,"t":"s"},{"x":0.31,"y":190,"t":"s"},{"x":0.315,"y":172,"t":"s"},{"x":0.311,"y":143,"t":"s"},{"x":0.313,"y":115,"t":"s"},
{"x":0.334,"y":618,"t":"s"},{"x":0.338,"y":582,"t":"s"},{"x":0.332,"y":470,"t":"s"},{"x":0.33,"y":430,"t":"s"},{"x":0.337,"y":392,"t":"s"},{"x":0.333,"y":368,"t":"s"},{"x":0.331,"y":350,"t":"s"},{"x":0.336,"y":315,"t":"s"},{"x":0.334,"y":311,"t":"s"},{"x":0.332,"y":279,"t":"s"},{"x":0.337,"y":248,"t":"s"},{"x":0.333,"y":231,"t":"s"},{"x":0.331,"y":210,"t":"s"},{"x":0.335,"y":194,"t":"s"},{"x":0.338,"y":176,"t":"s"},{"x":0.336,"y":158,"t":"s"},{"x":0.332,"y":135,"t":"s"},{"x":0.334,"y":103,"t":"s"},
{"x":0.361,"y":520,"t":"s"},{"x":0.363,"y":445,"t":"s"},{"x":0.359,"y":412,"t":"s"},{"x":0.365,"y":380,"t":"s"},{"x":0.356,"y":354,"t":"s"},{"x":0.362,"y":336,"t":"s"},{"x":0.358,"y":298,"t":"s"},{"x":0.36,"y":281,"t":"s"},{"x":0.357,"y":266,"t":"s"},{"x":0.363,"y":226,"t":"s"},{"x":0.365,"y":214,"t":"s"},{"x":0.361,"y":198,"t":"s"},{"x":0.356,"y":165,"t":"s"},{"x":0.358,"y":150,"t":"s"},{"x":0.364,"y":128,"t":"s"},{"x":0.359,"y":100,"t":"s"},
{"x":0.386,"y":470,"t":"s"},{"x":0.389,"y":425,"t":"s"},{"x":0.384,"y":389,"t":"s"},{"x":0.38,"y":364,"t":"s"},{"x":0.383,"y":343,"t":"s"},{"x":0.39,"y":325,"t":"s"},{"x":0.385,"y":306,"t":"s"},{"x":0.388,"y":272,"t":"s"},{"x":0.384,"y":245,"t":"s"},{"x":0.386,"y":239,"t":"s"},{"x":0.389,"y":207,"t":"s"},{"x":0.385,"y":178,"t":"s"},{"x":0.381,"y":160,"t":"s"},{"x":0.383,"y":140,"t":"s"},{"x":0.388,"y":117,"t":"s"},{"x":0.386,"y":97,"t":"s"},
{"x":0.412,"y":460,"t":"s"},{"x":0.415,"y":410,"t":"s"},{"x":0.41,"y":384,"t":"s"},{"x":0.406,"y":352,"t":"s"},{"x":0.409,"y":330,"t":"s"},{"x":0.416,"y":289,"t":"s"},{"x":0.411,"y":275,"t":"s"},{"x":0.414,"y":256,"t":"s"},{"x":0.41,"y":221,"t":"s"},{"x":0.405,"y":218,"t":"s"},{"x":0.408,"y":190,"t":"s"},{"x":0.415,"y":170,"t":"s"},{"x":0.411,"y":146,"t":"s"},{"x":0.413,"y":131,"t":"s"},{"x":0.412,"y":93,"t":"s"},
{"x":0.441,"y":440,"t":"s"},{"x":0.444,"y":395,"t":"s"},{"x":0.439,"y":371,"t":"s"},{"x":0.435,"y":335,"t":"s"},{"x":0.438,"y":315,"t":"s"},{"x":0.445,"y":296,"t":"s"},{"x":0.44,"y":261,"t":"s"},{"x":0.443,"y":244,"t":"s"},{"x":0.439,"y":226,"t":"s"},{"x":0.446,"y":199,"t":"s"},{"x":0.437,"y":182,"t":"s"},{"x":0.444,"y":163,"t":"s"},{"x":0.44,"y":150,"t":"s"},{"x":0.442,"y":125,"t":"s"},
{"x":0.471,"y":430,"t":"s"},{"x":0.474,"y":380,"t":"s"},{"x":0.469,"y":358,"t":"s"},{"x":0.465,"y":322,"t":"s"},{"x":0.468,"y":304,"t":"s"},{"x":0.475,"y":285,"t":"s"},{"x":0.47,"y":253,"t":"s"},{"x":0.473,"y":235,"t":"s"},{"x":0.469,"y":212,"t":"s"},{"x":0.476,"y":186,"t":"s"},{"x":0.467,"y":169,"t":"s"},{"x":0.474,"y":152,"t":"s"},{"x":0.47,"y":138,"t":"s"},{"x":0.472,"y":112,"t":"s"},
{"x":0.498,"y":828,"t":"s"},{"x":0.497,"y":722,"t":"s"},{"x":0.499,"y":618,"t":"s"},{"x":0.502,"y":470,"t":"s"},{"x":0.503,"y":420,"t":"s"},{"x":0.499,"y":393,"t":"s"},{"x":0.505,"y":350,"t":"s"},{"x":0.495,"y":330,"t":"s"},{"x":0.502,"y":308,"t":"s"},{"x":0.498,"y":276,"t":"s"},{"x":0.5,"y":262,"t":"s"},{"x":0.496,"y":238,"t":"s"},{"x":0.503,"y":222,"t":"s"},{"x":0.505,"y":193,"t":"s"},{"x":0.5,"y":174,"t":"s"},{"x":0.496,"y":146,"t":"s"},{"x":0.498,"y":128,"t":"s"},{"x":0.501,"y":113,"t":"s"},
{"x":0.531,"y":455,"t":"s"},{"x":0.534,"y":405,"t":"s"},{"x":0.529,"y":376,"t":"s"},{"x":0.525,"y":340,"t":"s"},{"x":0.528,"y":321,"t":"s"},{"x":0.535,"y":283,"t":"s"},{"x":0.53,"y":270,"t":"s"},{"x":0.533,"y":250,"t":"s"},{"x":0.529,"y":230,"t":"s"},{"x":0.536,"y":201,"t":"s"},{"x":0.527,"y":180,"t":"s"},{"x":0.534,"y":160,"t":"s"},{"x":0.53,"y":137,"t":"s"},{"x":0.532,"y":122,"t":"s"},
{"x":0.571,"y":448,"t":"s"},{"x":0.575,"y":392,"t":"s"},{"x":0.569,"y":366,"t":"s"},{"x":0.565,"y":330,"t":"s"},{"x":0.568,"y":310,"t":"s"},{"x":0.576,"y":290,"t":"s"},{"x":0.57,"y":258,"t":"s"},{"x":0.574,"y":235,"t":"s"},{"x":0.569,"y":215,"t":"s"},{"x":0.577,"y":187,"t":"s"},{"x":0.567,"y":168,"t":"s"},{"x":0.574,"y":153,"t":"s"},{"x":0.57,"y":131,"t":"s"},
{"x":0.612,"y":460,"t":"s"},{"x":0.615,"y":410,"t":"s"},{"x":0.609,"y":385,"t":"s"},{"x":0.605,"y":360,"t":"s"},{"x":0.608,"y":319,"t":"s"},{"x":0.616,"y":300,"t":"s"},{"x":0.61,"y":266,"t":"s"},{"x":0.614,"y":246,"t":"s"},{"x":0.609,"y":228,"t":"s"},{"x":0.617,"y":208,"t":"s"},{"x":0.607,"y":176,"t":"s"},{"x":0.614,"y":160,"t":"s"},{"x":0.61,"y":134,"t":"s"},{"x":0.612,"y":116,"t":"s"},
{"x":0.652,"y":879,"t":"s"},{"x":0.649,"y":664,"t":"s"},{"x":0.654,"y":462,"t":"s"},{"x":0.645,"y":395,"t":"s"},{"x":0.653,"y":372,"t":"s"},{"x":0.649,"y":334,"t":"s"},{"x":0.65,"y":310,"t":"s"},{"x":0.646,"y":294,"t":"s"},{"x":0.654,"y":272,"t":"s"},{"x":0.657,"y":236,"t":"s"},{"x":0.651,"y":220,"t":"s"},{"x":0.647,"y":186,"t":"s"},{"x":0.65,"y":168,"t":"s"},{"x":0.646,"y":155,"t":"s"},{"x":0.653,"y":128,"t":"s"},{"x":0.649,"y":118,"t":"s"},
{"x":0.7,"y":1290,"t":"s"},{"x":0.697,"y":448,"t":"s"},{"x":0.699,"y":400,"t":"s"},{"x":0.695,"y":378,"t":"s"},{"x":0.703,"y":350,"t":"s"},{"x":0.706,"y":314,"t":"s"},{"x":0.7,"y":280,"t":"s"},{"x":0.696,"y":275,"t":"s"},{"x":0.699,"y":238,"t":"s"},{"x":0.707,"y":224,"t":"s"},{"x":0.701,"y":200,"t":"s"},{"x":0.705,"y":170,"t":"s"},{"x":0.7,"y":145,"t":"s"},{"x":0.696,"y":131,"t":"s"},
{"x":0.741,"y":450,"t":"s"},{"x":0.745,"y":388,"t":"s"},{"x":0.739,"y":346,"t":"s"},{"x":0.735,"y":328,"t":"s"},{"x":0.738,"y":302,"t":"s"},{"x":0.746,"y":270,"t":"s"},{"x":0.74,"y":249,"t":"s"},{"x":0.744,"y":228,"t":"s"},{"x":0.739,"y":213,"t":"s"},{"x":0.747,"y":180,"t":"s"},{"x":0.737,"y":162,"t":"s"},{"x":0.744,"y":140,"t":"s"},
{"x":0.8,"y":546,"t":"s"},{"x":0.797,"y":440,"t":"s"},{"x":0.799,"y":372,"t":"s"},{"x":0.794,"y":335,"t":"s"},{"x":0.803,"y":310,"t":"s"},{"x":0.806,"y":285,"t":"s"},{"x":0.8,"y":265,"t":"s"},{"x":0.795,"y":232,"t":"s"},{"x":0.799,"y":211,"t":"s"},{"x":0.807,"y":196,"t":"s"},{"x":0.801,"y":166,"t":"s"},
{"x":0.853,"y":548,"t":"s"},{"x":0.85,"y":352,"t":"s"},{"x":0.847,"y":330,"t":"s"},{"x":0.854,"y":307,"t":"s"},{"x":0.849,"y":273,"t":"s"},{"x":0.851,"y":252,"t":"s"},{"x":0.846,"y":222,"t":"s"},{"x":0.855,"y":206,"t":"s"},{"x":0.858,"y":187,"t":"s"},{"x":0.852,"y":160,"t":"s"},
{"x":0.902,"y":425,"t":"s"},{"x":0.898,"y":405,"t":"s"},{"x":0.9,"y":344,"t":"s"},{"x":0.895,"y":320,"t":"s"},{"x":0.904,"y":282,"t":"s"},{"x":0.907,"y":258,"t":"s"},{"x":0.901,"y":242,"t":"s"},{"x":0.896,"y":211,"t":"s"},{"x":0.9,"y":190,"t":"s"},{"x":0.908,"y":178,"t":"s"},{"x":0.902,"y":151,"t":"s"},{"x":0.904,"y":132,"t":"s"},{"x":0.9,"y":108,"t":"s"},
{"x":0.962,"y":400,"t":"s"},{"x":0.966,"y":357,"t":"s"},{"x":0.96,"y":313,"t":"s"},{"x":0.955,"y":300,"t":"s"},{"x":0.959,"y":256,"t":"s"},{"x":0.967,"y":225,"t":"s"},{"x":0.961,"y":205,"t":"s"},{"x":0.965,"y":185,"t":"s"},{"x":0.96,"y":170,"t":"s"},{"x":0.968,"y":146,"t":"s"},{"x":0.958,"y":98,"t":"s"},
{"x":1.25,"y":395,"t":"s"},{"x":1.27,"y":368,"t":"s"},{"x":1.24,"y":340,"t":"s"},{"x":1.26,"y":315,"t":"s"},{"x":1.28,"y":281,"t":"s"},{"x":1.25,"y":265,"t":"s"},{"x":1.27,"y":246,"t":"s"},{"x":1.24,"y":226,"t":"s"},{"x":1.28,"y":219,"t":"s"},{"x":1.26,"y":201,"t":"s"},{"x":1.25,"y":192,"t":"s"},{"x":1.27,"y":181,"t":"s"},{"x":1.28,"y":172,"t":"s"},{"x":1.24,"y":160,"t":"s"},{"x":1.26,"y":146,"t":"s"},{"x":1.27,"y":86,"t":"s"},
{"x":1.43,"y":495,"t":"s"},{"x":1.42,"y":355,"t":"s"},{"x":1.44,"y":325,"t":"s"},{"x":1.43,"y":265,"t":"s"},{"x":1.42,"y":177,"t":"s"},
{"x":1.6,"y":520,"t":"s"},{"x":1.59,"y":340,"t":"s"},{"x":1.61,"y":326,"t":"s"},{"x":1.6,"y":275,"t":"s"},{"x":1.62,"y":262,"t":"s"},{"x":1.59,"y":245,"t":"s"},{"x":1.61,"y":230,"t":"s"},{"x":1.6,"y":215,"t":"s"},{"x":1.62,"y":190,"t":"s"},{"x":1.6,"y":175,"t":"s"},{"x":1.61,"y":155,"t":"s"},
{"x":1.74,"y":262,"t":"s"},{"x":1.76,"y":250,"t":"s"},{"x":1.75,"y":237,"t":"s"},{"x":1.74,"y":206,"t":"s"},{"x":1.76,"y":165,"t":"s"},{"x":1.75,"y":158,"t":"s"},
{"x":2.42,"y":394,"t":"s"},{"x":2.43,"y":306,"t":"s"},{"x":2.42,"y":293,"t":"s"},{"x":2.44,"y":258,"t":"s"},{"x":2.43,"y":232,"t":"s"},{"x":2.44,"y":215,"t":"s"},{"x":2.5,"y":176,"t":"s"},{"x":2.5,"y":141,"t":"s"},{"x":2.49,"y":111,"t":"s"},{"x":2.5,"y":106,"t":"s"},{"x":2.49,"y":102,"t":"s"},
{"x":3.8,"y":244,"t":"s"},{"x":3.78,"y":184,"t":"s"},{"x":3.82,"y":152,"t":"s"},{"x":3.8,"y":145,"t":"s"},{"x":3.79,"y":138,"t":"s"},{"x":3.81,"y":130,"t":"s"},
{"x":5.3,"y":462,"t":"s"},{"x":5.28,"y":452,"t":"s"},{"x":5.32,"y":441,"t":"s"},{"x":5.25,"y":347,"t":"s"},{"x":5.3,"y":326,"t":"s"},{"x":5.27,"y":301,"t":"s"},{"x":5.33,"y":293,"t":"s"},{"x":5.29,"y":281,"t":"s"},{"x":5.26,"y":270,"t":"s"},{"x":5.31,"y":258,"t":"s"},{"x":5.28,"y":250,"t":"s"},{"x":5.34,"y":237,"t":"s"},{"x":5.3,"y":226,"t":"s"},{"x":5.26,"y":216,"t":"s"},{"x":5.32,"y":206,"t":"s"},{"x":5.29,"y":195,"t":"s"},{"x":5.25,"y":176,"t":"s"},{"x":5.3,"y":160,"t":"s"},{"x":5.27,"y":128,"t":"s"},{"x":5.31,"y":108,"t":"s"},
{"x":6.45,"y":270,"t":"s"},{"x":6.5,"y":246,"t":"s"},{"x":6.48,"y":226,"t":"s"},{"x":6.52,"y":211,"t":"s"},{"x":6.46,"y":190,"t":"s"},{"x":6.5,"y":176,"t":"s"},{"x":6.47,"y":161,"t":"s"},
{"x":6.9,"y":455,"t":"s"},{"x":6.88,"y":386,"t":"s"},{"x":6.93,"y":366,"t":"s"},{"x":6.87,"y":346,"t":"s"},{"x":6.92,"y":325,"t":"s"},{"x":6.89,"y":306,"t":"s"},{"x":6.94,"y":290,"t":"s"},{"x":6.9,"y":266,"t":"s"},{"x":6.86,"y":250,"t":"s"},{"x":6.93,"y":232,"t":"s"},{"x":6.89,"y":218,"t":"s"},{"x":6.95,"y":201,"t":"s"},{"x":6.91,"y":184,"t":"s"},{"x":6.87,"y":169,"t":"s"},{"x":6.93,"y":160,"t":"s"},{"x":6.9,"y":155,"t":"s"},{"x":6.96,"y":147,"t":"s"},{"x":6.88,"y":140,"t":"s"},{"x":6.92,"y":124,"t":"s"},{"x":6.89,"y":115,"t":"s"},{"x":6.94,"y":105,"t":"s"},
{"x":9.55,"y":331,"t":"s"},{"x":9.6,"y":276,"t":"s"},{"x":9.5,"y":246,"t":"s"},{"x":9.65,"y":230,"t":"s"},{"x":9.58,"y":214,"t":"s"},{"x":9.52,"y":200,"t":"s"},{"x":9.62,"y":186,"t":"s"},{"x":9.55,"y":171,"t":"s"},{"x":9.6,"y":156,"t":"s"},{"x":9.5,"y":141,"t":"s"},{"x":9.64,"y":131,"t":"s"},
{"x":10.4,"y":326,"t":"s"},{"x":10.6,"y":262,"t":"s"},{"x":10.5,"y":241,"t":"s"},{"x":10.45,"y":222,"t":"s"},{"x":10.55,"y":206,"t":"s"},{"x":10.5,"y":191,"t":"s"},{"x":10.4,"y":177,"t":"s"},{"x":10.6,"y":163,"t":"s"},{"x":10.5,"y":148,"t":"s"},{"x":10.45,"y":135,"t":"s"},{"x":10.55,"y":108,"t":"s"},
{"x":12.3,"y":368,"t":"s"},{"x":12.2,"y":306,"t":"s"},{"x":12.4,"y":277,"t":"s"},{"x":12.25,"y":250,"t":"s"},{"x":12.35,"y":232,"t":"s"},{"x":12.3,"y":215,"t":"s"},{"x":12.2,"y":201,"t":"s"},{"x":12.4,"y":186,"t":"s"},{"x":12.3,"y":171,"t":"s"},{"x":12.25,"y":156,"t":"s"},{"x":12.35,"y":135,"t":"s"},{"x":12.3,"y":121,"t":"s"},{"x":12.2,"y":113,"t":"s"},{"x":12.4,"y":105,"t":"s"},{"x":12.3,"y":80,"t":"s"},
{"x":14.2,"y":315,"t":"s"},{"x":14.1,"y":277,"t":"s"},{"x":14.3,"y":231,"t":"s"},{"x":14.2,"y":206,"t":"s"},{"x":14.15,"y":191,"t":"s"},{"x":14.25,"y":176,"t":"s"},{"x":14.2,"y":166,"t":"s"},{"x":14.1,"y":151,"t":"s"},{"x":14.3,"y":139,"t":"s"},{"x":14.2,"y":121,"t":"s"},{"x":14.15,"y":111,"t":"s"},{"x":14.25,"y":94,"t":"s"},
{"x":17.1,"y":173,"t":"s"},{"x":16.9,"y":161,"t":"s"},{"x":17,"y":151,"t":"s"},{"x":17.2,"y":141,"t":"s"},{"x":16.95,"y":131,"t":"s"},{"x":17.05,"y":118,"t":"s"},{"x":17.1,"y":96,"t":"s"},
{"x":19.6,"y":394,"t":"s"},{"x":19.4,"y":315,"t":"s"},{"x":19.5,"y":277,"t":"s"},{"x":19.7,"y":245,"t":"s"},{"x":19.5,"y":231,"t":"s"},{"x":19.6,"y":219,"t":"s"},{"x":19.4,"y":206,"t":"s"},{"x":19.55,"y":191,"t":"s"},{"x":19.5,"y":166,"t":"s"}
  ]
},
"layer": [
  {
    "data": {"name": "pts"},
    "transform": [{"filter": "datum.t == 'q'"}],
    "mark": {"type": "point", "filled": false, "size": 56, "strokeWidth": 1, "opacity": 1},
    "encoding": {
      "x": {"field": "x", "type": "quantitative", "scale": {"type": "log", "domain": [0.01, 150], "nice": false},
            "axis": {"orient": "bottom", "values": [0.01, 0.1, 1, 10, 100], "format": ".2f", "tickSize": -9.5, "labelPadding": 23, "title": "Nuclear separation (kpc)", "titlePadding": 4}},
      "y": {"field": "y", "type": "quantitative", "scale": {"type": "log", "domain": [20, 2000], "nice": false},
            "axis": {"orient": "left", "values": [100, 1000], "format": "d", "tickSize": -15, "labelPadding": 24, "title": null}},
      "color": {"field": "t", "type": "nominal", "scale": {"domain": ["q", "s"], "range": ["#000000", "#0000ff"]},
                "legend": {"orient": "none", "legendX": 30, "legendY": 31, "title": null, "labelFontSize": 25, "labelFont": "Liberation Sans", "labelColor": "#000000", "symbolSize": 190, "symbolStrokeWidth": 2, "labelOffset": 4, "rowPadding": 2, "padding": 0, "labelExpr": "datum.label == 'q' ? 'quiescent' : 'starburst'",
                           "encode": {"symbols": {"update": {"strokeWidth": {"signal": "datum.value == 'q' ? 1.5 : 3"}}}}}},
      "shape": {"field": "t", "type": "nominal", "scale": {"domain": ["q", "s"], "range": ["circle", "triangle-up"]},
                "legend": {"orient": "none", "legendX": 30, "legendY": 31, "title": null, "labelFontSize": 25, "labelFont": "Liberation Sans", "labelColor": "#000000", "symbolSize": 190, "symbolStrokeWidth": 2, "labelOffset": 4, "rowPadding": 2, "padding": 0, "labelExpr": "datum.label == 'q' ? 'quiescent' : 'starburst'",
                           "encode": {"symbols": {"update": {"strokeWidth": {"signal": "datum.value == 'q' ? 1.5 : 3"}}}}}}
    }
  },
  {
    "data": {"name": "pts"},
    "transform": [{"filter": "datum.t == 's'"}],
    "mark": {"type": "point", "filled": false, "size": 90, "strokeWidth": 2.3, "opacity": 1},
    "encoding": {
      "x": {"field": "x", "type": "quantitative", "scale": {"type": "log", "domain": [0.01, 150], "nice": false}, "axis": null},
      "y": {"field": "y", "type": "quantitative", "scale": {"type": "log", "domain": [20, 2000], "nice": false}, "axis": null},
      "color": {"field": "t", "type": "nominal", "scale": {"domain": ["q", "s"], "range": ["#000000", "#0000ff"]}},
      "shape": {"field": "t", "type": "nominal", "scale": {"domain": ["q", "s"], "range": ["circle", "triangle-up"]}}
    }
  },
  {
    "data": {"name": "ax"},
    "mark": {"type": "point", "opacity": 0},
    "encoding": {
      "x": {"field": "x", "type": "quantitative", "scale": {"type": "log", "domain": [0.01, 150], "nice": false},
            "axis": {"orient": "bottom", "values": [0.02,0.03,0.04,0.05,0.06,0.07,0.08,0.09,0.2,0.3,0.4,0.5,0.6,0.7,0.8,0.9,2,3,4,5,6,7,8,9,20,30,40,50,60,70,80,90], "labels": false, "tickSize": -4.5, "title": null}},
      "y": {"field": "y", "type": "quantitative", "scale": {"type": "log", "domain": [20, 2000], "nice": false},
            "axis": {"orient": "left", "values": [30,40,50,60,70,80,90,200,300,400,500,600,700,800,900], "labels": false, "tickSize": -7, "title": null}}
    }
  },
  {
    "data": {"name": "ax"},
    "mark": {"type": "point", "opacity": 0},
    "encoding": {
      "x": {"field": "x", "type": "quantitative", "scale": {"type": "log", "domain": [0.01, 150], "nice": false},
            "axis": {"orient": "top", "values": [0.01, 0.1, 1, 10, 100], "labels": false, "tickSize": -9.5, "title": null}},
      "y": {"field": "y", "type": "quantitative", "scale": {"type": "log", "domain": [20, 2000], "nice": false},
            "axis": {"orient": "right", "values": [100, 1000], "labels": false, "tickSize": -15, "title": null}}
    }
  },
  {
    "data": {"name": "ax"},
    "mark": {"type": "point", "opacity": 0},
    "encoding": {
      "x": {"field": "x", "type": "quantitative", "scale": {"type": "log", "domain": [0.01, 150], "nice": false},
            "axis": {"orient": "top", "values": [0.02,0.03,0.04,0.05,0.06,0.07,0.08,0.09,0.2,0.3,0.4,0.5,0.6,0.7,0.8,0.9,2,3,4,5,6,7,8,9,20,30,40,50,60,70,80,90], "labels": false, "tickSize": -4.5, "title": null}},
      "y": {"field": "y", "type": "quantitative", "scale": {"type": "log", "domain": [20, 2000], "nice": false},
            "axis": {"orient": "right", "values": [30,40,50,60,70,80,90,200,300,400,500,600,700,800,900], "labels": false, "tickSize": -7, "title": null}}
    }
  }
],
"resolve": {"axis": {"x": "independent", "y": "independent"}}
}
